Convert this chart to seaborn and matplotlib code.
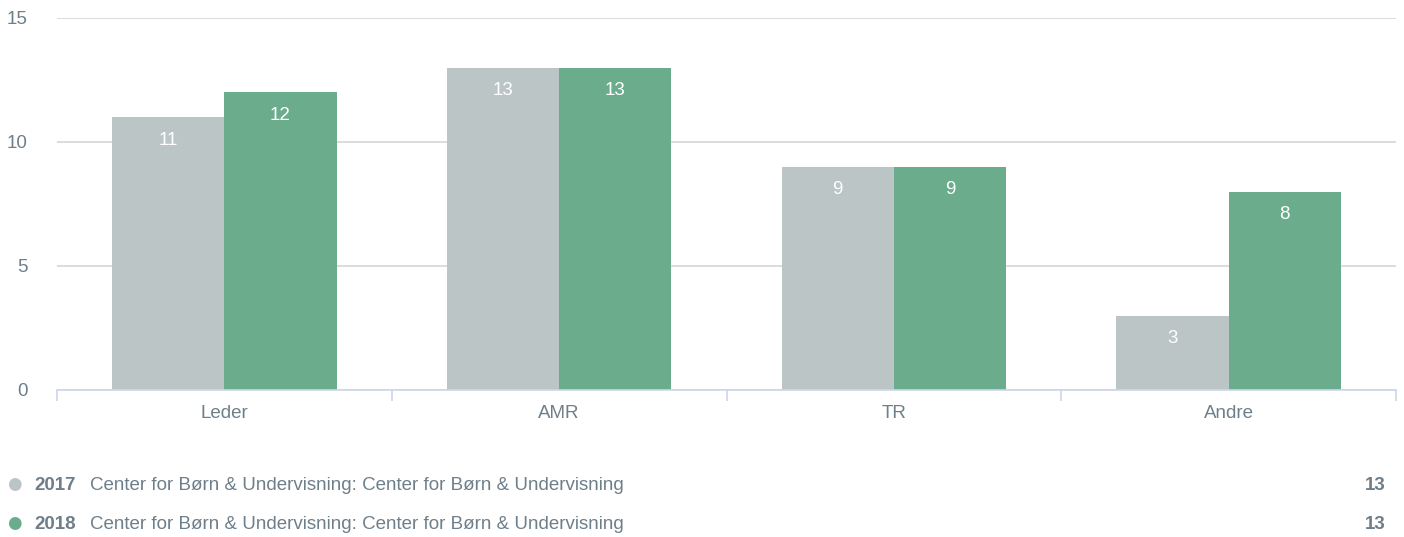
import seaborn as sns
import matplotlib.pyplot as plt
import pandas as pd

categories = ["Leder", "AMR", "TR", "Andre"]
years = ["2017", "2018"]
values_2017 = [11, 13, 9, 3]
values_2018 = [12, 13, 9, 8]
legend_desc = "Center for Børn & Undervisning: Center for Børn & Undervisning"
legend_totals = [13, 13]

colors = ["#bbc5c6", "#6aac8c"]
text_col = "#6e7f8a"
fs = 13.5

df = pd.DataFrame({
    "kategori": categories * 2,
    "aar": [years[0]] * 4 + [years[1]] * 4,
    "antal": values_2017 + values_2018,
})

sns.set_style("white")
plt.rcParams["font.family"] = ["Liberation Sans", "DejaVu Sans"]

fig = plt.figure(figsize=(14.04, 5.37), dpi=100)
ax = fig.add_axes([57 / 1404, 147 / 537, 1339 / 1404, 372 / 537])

sns.barplot(data=df, x="kategori", y="antal", hue="aar", palette=colors,
            width=0.67, saturation=1, linewidth=0, ax=ax, legend=False)

for cont in ax.containers:
    for bar in cont:
        h = bar.get_height()
        ax.annotate(f"{h:.0f}", (bar.get_x() + bar.get_width() / 2, h),
                    xytext=(0, -23), textcoords="offset pixels",
                    ha="center", va="center", color="white", fontsize=fs)

ax.set_xlim(-0.5, 3.5)
ax.set_ylim(0, 15)
ax.set_yticks([0, 5, 10, 15])
ax.yaxis.grid(True, color="#d6d6d6", linewidth=1.2)
ax.set_axisbelow(True)
for s in ["top", "right", "left"]:
    ax.spines[s].set_visible(False)
ax.spines["bottom"].set_color("#ccd6eb")
ax.spines["bottom"].set_linewidth(1.2)
ax.set_xlabel("")
ax.set_ylabel("")
ax.tick_params(axis="y", length=0, pad=21, labelsize=fs, labelcolor=text_col)
ax.tick_params(axis="x", which="major", length=0, pad=11, labelsize=fs, labelcolor=text_col)
ax.set_xticks([-0.5, 0.5, 1.5, 2.5, 3.5], minor=True)
ax.tick_params(axis="x", which="minor", bottom=True, length=8, color="#ccd6eb", width=1.2)

rows_y = [490, 529]
for i, yr in enumerate(years):
    yf = 1 - rows_y[i] / 537
    fig.text(14 / 1404, 1 - (rows_y[i] - 6) / 537, "\u25cf", color=colors[i], fontsize=12,
             ha="center", va="center", family=["DejaVu Sans"])
    fig.text(34 / 1404, yf, yr, color=text_col, fontsize=fs, fontweight="bold", ha="left", va="baseline")
    fig.text(90 / 1404, yf, legend_desc, color=text_col, fontsize=fs, ha="left", va="baseline")
    fig.text(1386 / 1404, yf, str(legend_totals[i]), color=text_col, fontsize=fs,
             fontweight="bold", ha="right", va="baseline")

fig.savefig("out.png", dpi=100)
